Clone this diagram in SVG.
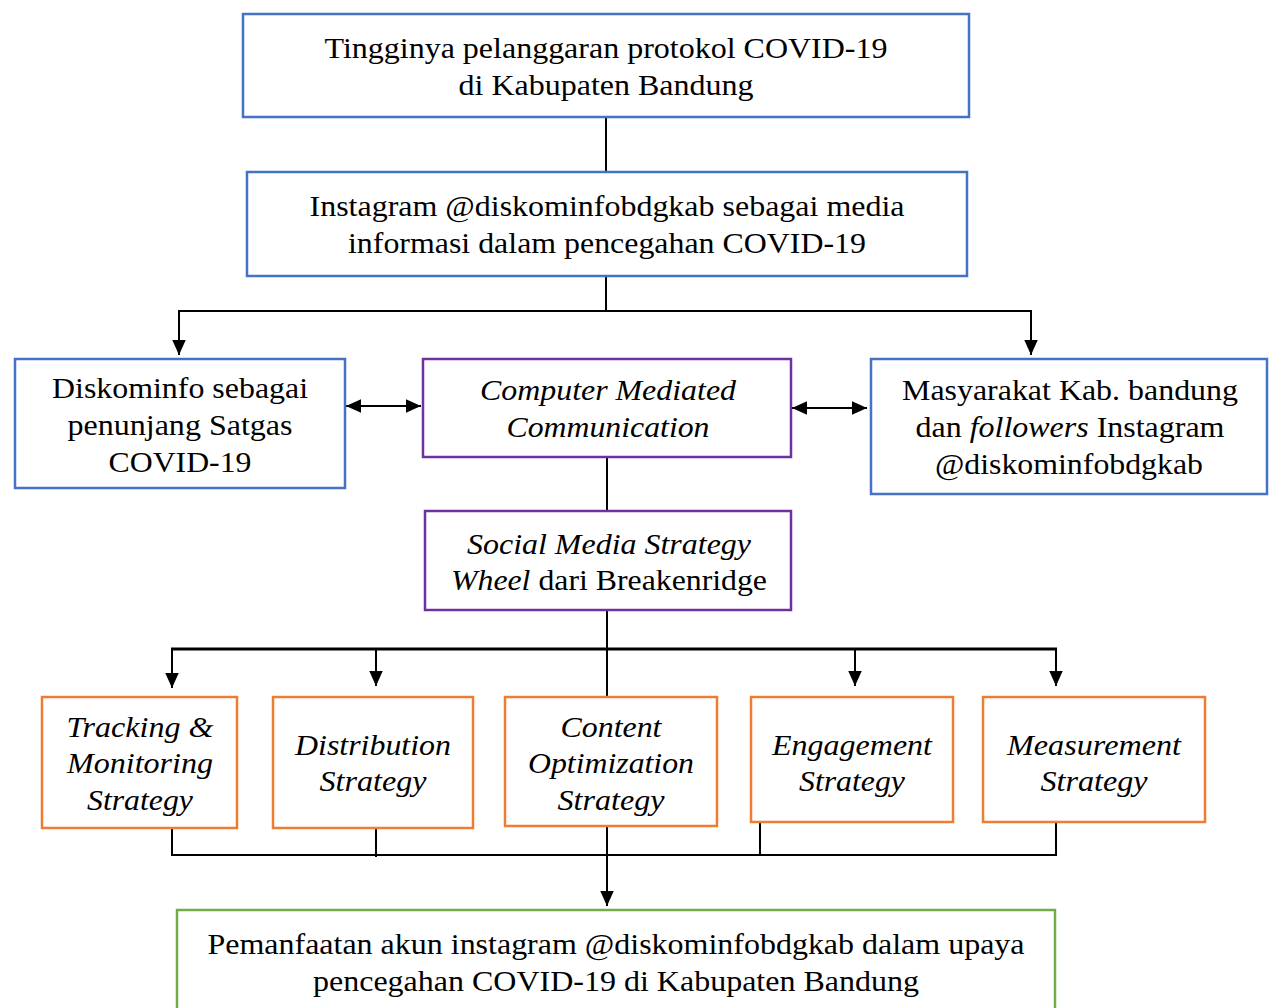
<svg xmlns="http://www.w3.org/2000/svg" width="1272" height="1008" viewBox="0 0 1272 1008">
<style>
.box{fill:#fff;stroke-width:2.5}
.blue{stroke:#4472C4}
.purple{stroke:#7030A0}
.orange{stroke:#ED7D31}
.green{stroke:#70AD47}
text{font-family:'Times New Roman','Liberation Serif',Tinos,serif;font-size:29px;fill:#000;text-anchor:middle}
.it{font-style:italic}
.ln{stroke:#000;stroke-width:2;fill:none}
.thick{stroke:#000;stroke-width:3;fill:none}
</style>
<defs>
<marker id="ah" viewBox="0 0 10 10" refX="10" refY="5" markerWidth="15" markerHeight="15" markerUnits="userSpaceOnUse" orient="auto-start-reverse">
<path d="M0,0.5 L10,5 L0,9.5 z" fill="#000"/>
</marker>
</defs>
<g id="connectors">
<line class="ln" x1="606" y1="117" x2="606" y2="172"/>
<line class="ln" x1="606" y1="276" x2="606" y2="311"/>
<polyline class="ln" points="179,355 179,311 1031,311 1031,355" marker-start="url(#ah)" marker-end="url(#ah)"/>
<line class="ln" x1="346" y1="406" x2="421" y2="406" marker-start="url(#ah)" marker-end="url(#ah)"/>
<line class="ln" x1="792" y1="408" x2="867" y2="408" marker-start="url(#ah)" marker-end="url(#ah)"/>
<line class="ln" x1="607" y1="457" x2="607" y2="511"/>
<line class="ln" x1="607" y1="610" x2="607" y2="697"/>
<line class="thick" x1="171" y1="649" x2="1057" y2="649"/>
<line class="ln" x1="172" y1="649" x2="172" y2="688" marker-end="url(#ah)"/>
<line class="ln" x1="376" y1="649" x2="376" y2="686" marker-end="url(#ah)"/>
<line class="ln" x1="855" y1="649" x2="855" y2="686" marker-end="url(#ah)"/>
<line class="ln" x1="1056" y1="649" x2="1056" y2="686" marker-end="url(#ah)"/>
<polyline class="ln" points="172,828 172,855 1056,855 1056,822"/>
<line class="ln" x1="376" y1="828" x2="376" y2="857"/>
<line class="ln" x1="760" y1="822" x2="760" y2="855"/>
<line class="ln" x1="607" y1="826" x2="607" y2="906" marker-end="url(#ah)"/>
</g>
<g id="n1">
<rect class="box blue" x="243" y="14" width="726" height="103"/>
<text x="606" y="58" textLength="563" lengthAdjust="spacingAndGlyphs">Tingginya pelanggaran protokol COVID-19</text>
<text x="606" y="95" textLength="295" lengthAdjust="spacingAndGlyphs">di Kabupaten Bandung</text>
</g>
<g id="n2">
<rect class="box blue" x="247" y="172" width="720" height="104"/>
<text x="607" y="216" textLength="595" lengthAdjust="spacingAndGlyphs">Instagram @diskominfobdgkab sebagai media</text>
<text x="607" y="253" textLength="518" lengthAdjust="spacingAndGlyphs">informasi dalam pencegahan COVID-19</text>
</g>
<g id="n3">
<rect class="box blue" x="15" y="359" width="330" height="129"/>
<text x="180" y="398" textLength="256" lengthAdjust="spacingAndGlyphs">Diskominfo sebagai</text>
<text x="180" y="435" textLength="225" lengthAdjust="spacingAndGlyphs">penunjang Satgas</text>
<text x="180" y="472" textLength="143" lengthAdjust="spacingAndGlyphs">COVID-19</text>
</g>
<g id="n4">
<rect class="box purple" x="423" y="359" width="368" height="98"/>
<text class="it" x="608" y="400" textLength="256" lengthAdjust="spacingAndGlyphs">Computer Mediated</text>
<text class="it" x="608" y="437" textLength="203" lengthAdjust="spacingAndGlyphs">Communication</text>
</g>
<g id="n5">
<rect class="box blue" x="871" y="359" width="396" height="135"/>
<text x="1070" y="400" textLength="336" lengthAdjust="spacingAndGlyphs">Masyarakat Kab. bandung</text>
<text x="1070" y="437" textLength="309" lengthAdjust="spacingAndGlyphs">dan <tspan class="it">followers</tspan> Instagram</text>
<text x="1069" y="474" textLength="268" lengthAdjust="spacingAndGlyphs">@diskominfobdgkab</text>
</g>
<g id="n6">
<rect class="box purple" x="425" y="511" width="366" height="99"/>
<text class="it" x="609" y="554" textLength="284" lengthAdjust="spacingAndGlyphs">Social Media Strategy</text>
<text x="609" y="590" textLength="316" lengthAdjust="spacingAndGlyphs"><tspan class="it">Wheel</tspan> dari Breakenridge</text>
</g>
<g id="n7">
<rect class="box orange" x="42" y="697" width="195" height="131"/>
<text class="it" x="140" y="737" textLength="147" lengthAdjust="spacingAndGlyphs">Tracking &amp;</text>
<text class="it" x="140" y="773" textLength="146" lengthAdjust="spacingAndGlyphs">Monitoring</text>
<text class="it" x="140" y="810" textLength="106" lengthAdjust="spacingAndGlyphs">Strategy</text>
</g>
<g id="n8">
<rect class="box orange" x="273" y="697" width="200" height="131"/>
<text class="it" x="373" y="755" textLength="156" lengthAdjust="spacingAndGlyphs">Distribution</text>
<text class="it" x="373" y="791" textLength="107" lengthAdjust="spacingAndGlyphs">Strategy</text>
</g>
<g id="n9">
<rect class="box orange" x="505" y="697" width="212" height="129"/>
<text class="it" x="611" y="737" textLength="101" lengthAdjust="spacingAndGlyphs">Content</text>
<text class="it" x="611" y="773" textLength="166" lengthAdjust="spacingAndGlyphs">Optimization</text>
<text class="it" x="611" y="810" textLength="107" lengthAdjust="spacingAndGlyphs">Strategy</text>
</g>
<g id="n10">
<rect class="box orange" x="751" y="697" width="202" height="125"/>
<text class="it" x="852" y="755" textLength="160" lengthAdjust="spacingAndGlyphs">Engagement</text>
<text class="it" x="852" y="791" textLength="106" lengthAdjust="spacingAndGlyphs">Strategy</text>
</g>
<g id="n11">
<rect class="box orange" x="983" y="697" width="222" height="125"/>
<text class="it" x="1094" y="755" textLength="174" lengthAdjust="spacingAndGlyphs">Measurement</text>
<text class="it" x="1094" y="791" textLength="107" lengthAdjust="spacingAndGlyphs">Strategy</text>
</g>
<g id="n12">
<rect class="box green" x="177" y="910" width="878" height="110"/>
<text x="616" y="954" textLength="817" lengthAdjust="spacingAndGlyphs">Pemanfaatan akun instagram @diskominfobdgkab dalam upaya</text>
<text x="616" y="991" textLength="606" lengthAdjust="spacingAndGlyphs">pencegahan COVID-19 di Kabupaten Bandung</text>
</g>
</svg>
